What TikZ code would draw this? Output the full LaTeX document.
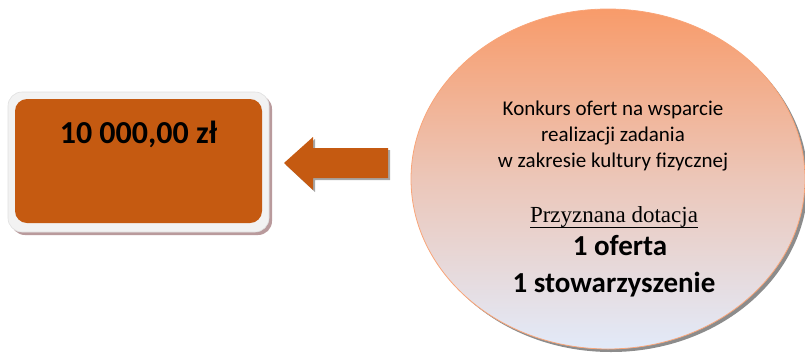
\documentclass[tikz,border=0pt]{standalone}
\usepackage{fontspec}
\setmainfont{Carlito}
\newfontfamily\timesfont{Liberation Serif}
\usetikzlibrary{positioning,shadows,shapes.geometric}

\definecolor{rust}{HTML}{C55A11}
\definecolor{peach}{HTML}{F89B6A}
\definecolor{mist}{HTML}{E2EAF9}
\definecolor{shade}{HTML}{B99A9C}

\begin{document}
\begin{tikzpicture}[x=1pt,y=-1pt,
  every node/.style={inner sep=0pt,outer sep=0pt},
  frame/.style={rectangle,rounded corners=14pt,draw=black!12,line width=0.6pt,fill=black!5,
    drop shadow={shadow xshift=3pt,shadow yshift=-3pt,fill=shade,opacity=1}},
  sum/.style={rectangle,rounded corners=12pt,fill=rust},
  oval/.style={ellipse,draw=peach!90,line width=0.8pt,top color=peach,bottom color=mist,
    middle color=peach!45!mist,
    drop shadow={shadow xshift=3pt,shadow yshift=-3pt,fill=black!45,opacity=1}},
  big/.style={font=\bfseries\fontsize{29}{34}\selectfont},
  small/.style={font=\fontsize{21}{25}\selectfont}]
  \useasboundingbox (0,0) rectangle (805,354);
  % box with the amount
  \node [frame,minimum width=261pt,minimum height=140pt] (frame) at (138.5,162) {};
  \node [sum,minimum width=247pt,minimum height=124pt] (sum) at (138.5,161) {};
  \node [anchor=base,font=\bfseries\fontsize{32}{38}\selectfont] (amount) at (138.5,143) {10 000,00 zł};
  % arrow pointing to the box
  \coordinate (tip) at (284,163);
  \fill [black!35] ([shift={(2,2)}]tip) -- ++(29,-26) -- ++(0,11) -- ++(75,0) -- ++(0,30)
    -- ++(-75,0) -- ++(0,12) -- cycle;
  \fill [rust] (tip) -- ++(29,-26) -- ++(0,11) -- ++(75,0) -- ++(0,30)
    -- ++(-75,0) -- ++(0,12) -- cycle;
  % competition
  \node [oval,minimum width=394pt,minimum height=340pt] (contest) at (608,179) {};
  \node [small,anchor=base] (l1) at (613,115) {Konkurs ofert na wsparcie};
  \node [small,anchor=base] (l2) at (613,141) {realizacji zadania};
  \node [small,anchor=base] (l3) at (613,167) {w zakresie kultury fizycznej};
  \node [anchor=base,font=\timesfont\fontsize{23}{27}\selectfont] (grant) at (614,222) {Przyznana dotacja};
  \draw [line width=1pt] ([yshift=-5pt]grant.base west) -- ([yshift=-5pt]grant.base east);
  \node [big,anchor=base] (offer) at (620,255) {1 oferta};
  \node [big,anchor=base] (assoc) at (614,292) {1 stowarzyszenie};
\end{tikzpicture}
\end{document}
